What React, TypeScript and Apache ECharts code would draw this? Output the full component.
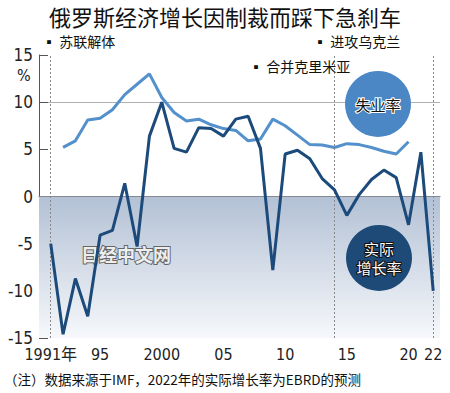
import React, { useEffect, useRef } from "react";
import * as echarts from "echarts";

const years = [1991, 1992, 1993, 1994, 1995, 1996, 1997, 1998, 1999, 2000, 2001, 2002, 2003, 2004, 2005, 2006, 2007, 2008, 2009, 2010, 2011, 2012, 2013, 2014, 2015, 2016, 2017, 2018, 2019, 2020, 2021, 2022];
const growth = [-5.0, -14.6, -8.7, -12.7, -4.1, -3.6, 1.4, -5.3, 6.4, 10.0, 5.1, 4.7, 7.3, 7.2, 6.4, 8.2, 8.5, 5.1, -7.8, 4.5, 4.9, 4.0, 1.9, 0.7, -2.0, 0.2, 1.8, 2.8, 2.0, -3.0, 4.7, -10.0];
const unemploymentYears = [1992, 1993, 1994, 1995, 1996, 1997, 1998, 1999, 2000, 2001, 2002, 2003, 2004, 2005, 2006, 2007, 2008, 2009, 2010, 2011, 2012, 2013, 2014, 2015, 2016, 2017, 2018, 2019, 2020];
const unemployment = [5.2, 5.9, 8.1, 8.3, 9.2, 10.8, 11.9, 13.0, 10.5, 8.9, 8.0, 8.2, 7.6, 7.2, 7.0, 5.9, 6.1, 8.2, 7.5, 6.5, 5.5, 5.45, 5.2, 5.6, 5.5, 5.2, 4.8, 4.5, 5.8];
const xTickValues = [1991, 1995, 2000, 2005, 2010, 2015, 2020, 2022];
const xTickLabels: Record<number, string> = { 1991: "1991年", 1995: "95", 2000: "2000", 2005: "05", 2010: "10", 2015: "15", 2020: "20", 2022: "22" };
const eventYears = [1991, 2014, 2022];

const NARROW = '"Liberation Sans Narrow", "DejaVu Sans Condensed", "Noto Sans CJK SC", sans-serif';
const CJK = '"Noto Sans CJK SC", sans-serif';

export default function App() {
  const ref = useRef<HTMLDivElement>(null);
  useEffect(() => {
    if (!ref.current) return;
    const chart = echarts.init(ref.current, null, { renderer: "svg" });
    chart.setOption({
      animation: false,
      backgroundColor: "#ffffff",
      grid: { left: 39, right: 10, top: 55, bottom: 55 },
      xAxis: {
        type: "value",
        min: 1990.05,
        max: 2022.55,
        axisLine: { show: true, lineStyle: { color: "#555", width: 1 } },
        axisTick: { show: true, length: 7, lineStyle: { color: "#555" }, customValues: xTickValues },
        axisLabel: {
          customValues: xTickValues,
          formatter: (v: number) => xTickLabels[v] ?? "",
          fontFamily: NARROW,
          fontSize: 16,
          color: "#222",
          margin: 8,
        },
        splitLine: { show: false },
      },
      yAxis: {
        type: "value",
        min: -15,
        max: 15,
        interval: 5,
        axisLine: { show: true, lineStyle: { color: "#555", width: 1 } },
        axisTick: { show: true, inside: true, length: 9, lineStyle: { color: "#555" } },
        axisLabel: { fontFamily: NARROW, fontSize: 17, color: "#222", margin: 6 },
        splitLine: { show: true, lineStyle: { color: ["transparent", "#b0b0b0"], width: 1 } },
      },
      series: [
        {
          type: "line",
          name: "实际增长率",
          data: years.map((y, i) => [y, growth[i]]),
          showSymbol: false,
          lineStyle: { color: "#1c4a7a", width: 3 },
          z: 5,
          markArea: {
            silent: true,
            itemStyle: {
              color: new echarts.graphic.LinearGradient(0, 0, 0, 1, [
                { offset: 0, color: "#b3c1d5" },
                { offset: 1, color: "#f6f8fb" },
              ]),
            },
            data: [[{ yAxis: 0 }, { yAxis: -15 }]],
          },
          markLine: {
            silent: true,
            symbol: "none",
            label: { show: false },
            lineStyle: { color: "#888", type: [2, 2], width: 1 },
            data: eventYears.map((y) => ({ xAxis: y })),
          },
        },
        {
          type: "line",
          name: "失业率",
          data: unemploymentYears.map((y, i) => [y, unemployment[i]]),
          showSymbol: false,
          lineStyle: { color: "#5490cc", width: 3 },
          z: 4,
        },
      ],
      graphic: [
        { type: "text", left: "center", top: 5, z: 100, style: { text: "俄罗斯经济增长因制裁而踩下急刹车", fontFamily: CJK, fontSize: 22, fill: "#111" } },
        { type: "text", left: 42, top: 34, z: 100, style: { text: "▪ 苏联解体", fontFamily: CJK, fontSize: 14, fill: "#111" } },
        { type: "text", left: 313, top: 34, z: 100, style: { text: "▪ 进攻乌克兰", fontFamily: CJK, fontSize: 14, fill: "#111" } },
        { type: "text", left: 249, top: 59, z: 100, style: { text: "▪ 合并克里米亚", fontFamily: CJK, fontSize: 14, fill: "#111" } },
        { type: "text", left: 17, top: 67, z: 100, style: { text: "%", fontFamily: NARROW, fontSize: 16, fill: "#222" } },
        { type: "text", left: 80, top: 244, z: 3, style: { text: "日经中文网", fontFamily: CJK, fontSize: 18, fontWeight: "bold", fill: "#eeeeee", stroke: "#666", lineWidth: 2 } },
        { type: "circle", z: 100, shape: { cx: 378, cy: 104, r: 33 }, style: { fill: "#4a87c4" } },
        { type: "text", z: 101, x: 378, y: 104, style: { text: "失业率", fontFamily: CJK, fontSize: 15, fill: "#111", stroke: "#fff", lineWidth: 2, align: "center", verticalAlign: "middle" } },
        { type: "circle", z: 100, shape: { cx: 379, cy: 258, r: 33 }, style: { fill: "#1e4a78" } },
        { type: "text", z: 101, x: 379, y: 258, style: { text: "实际\n增长率", fontFamily: CJK, fontSize: 15, lineHeight: 19, fill: "#fff", stroke: "#111", lineWidth: 2, align: "center", verticalAlign: "middle" } },
        { type: "text", left: 4, top: 372, z: 100, style: { text: "（注）数据来源于IMF，2022年的实际增长率为EBRD的预测", fontFamily: CJK, fontSize: 13.5, fill: "#111" } },
      ],
    });
    return () => chart.dispose();
  }, []);
  return <div ref={ref} style={{ width: 450, height: 393, position: "absolute", left: 0, top: 0 }} />;
}
